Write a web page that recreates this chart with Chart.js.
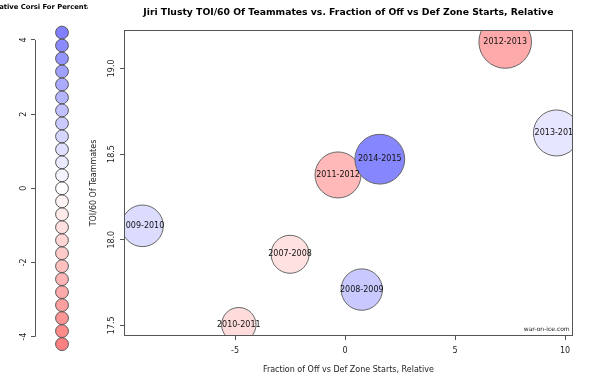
<!DOCTYPE html>
<html><head><meta charset="utf-8">
<script src="https://cdn.jsdelivr.net/npm/chart.js@4"></script>
<style>
html,body{margin:0;padding:0;background:#fff;}
#wrap{position:relative;width:600px;height:381px;overflow:hidden;}
#main{position:absolute;left:0;top:0;}
#legend{position:absolute;left:0;top:0;}
</style></head><body>
<div id="wrap">
<canvas id="main" width="600" height="381"></canvas>
<canvas id="legend" width="100" height="381"></canvas>
</div>
<script>
// ---- data ----
const seasons      = ['2007-2008','2008-2009','2009-2010','2010-2011','2011-2012','2012-2013','2013-2014','2014-2015'];
const zoneStartRel = [-2.50, 0.76, -9.21, -4.83, -0.32, 7.28, 9.61, 1.58];
const toiTeammates = [17.915, 17.709, 18.081, 17.504, 18.378, 19.154, 18.623, 18.470];
const corsiRel     = [-1.0, 1.8, 1.15, -1.15, -2.3, -2.8, 0.84, 4.0];
const bubbleRadius = [19, 20.7, 20.8, 17.2, 23, 26.3, 23, 24.9];
const xTicks = [-5, 0, 5, 10];
const yTicks = [17.5, 18.0, 18.5, 19.0];
const legendValues = [4.2, 3.85, 3.5, 3.15, 2.8, 2.45, 2.1, 1.75, 1.4, 1.05, 0.7, 0.35, 0,
                      -0.35, -0.7, -1.05, -1.4, -1.75, -2.1, -2.45, -2.8, -3.15, -3.5, -3.85, -4.2];
const legendTicks = [-4, -2, 0, 2, 4];
const titleText = 'Jiri Tlusty TOI/60 Of Teammates vs. Fraction of Off vs Def Zone Starts, Relative';
const legendTitle = 'Relative Corsi For Percentage';

Chart.defaults.font.family = '"DejaVu Sans", sans-serif';

function corsiColor(v) {
  const t = Math.min(Math.abs(v) / 4.2, 1);
  const c = Math.round(255 - 127 * t);
  return v >= 0 ? `rgb(${c},${c},255)` : `rgb(255,${c},${c})`;
}

const framePlugin = {
  id: 'frame',
  afterDatasetsDraw(chart) {
    const a = chart.chartArea, ctx = chart.ctx;
    // bubble labels, clipped to the plot area
    ctx.save();
    ctx.beginPath();
    ctx.rect(a.left, a.top, a.right - a.left, a.bottom - a.top);
    ctx.clip();
    ctx.font = '8px "DejaVu Sans"';
    ctx.fillStyle = '#111';
    ctx.textAlign = 'center';
    ctx.textBaseline = 'middle';
    chart.getDatasetMeta(0).data.forEach((el, i) => {
      ctx.fillText(seasons[i], el.x, el.y);
    });
    ctx.font = '6px "DejaVu Sans"';
    ctx.textAlign = 'right';
    ctx.fillStyle = '#222';
    ctx.fillText('war-on-ice.com', a.right - 3, a.bottom - 6.5);
    ctx.restore();
    // box
    ctx.save();
    ctx.strokeStyle = '#555';
    ctx.lineWidth = 1;
    ctx.strokeRect(Math.round(a.left) + 0.5, Math.round(a.top) + 0.5,
                   Math.round(a.right - a.left) - 1, Math.round(a.bottom - a.top) - 1);
    ctx.restore();
  }
};

new Chart(document.getElementById('main'), {
  type: 'bubble',
  data: {
    datasets: [{
      data: seasons.map((s, i) => ({ x: zoneStartRel[i], y: toiTeammates[i], r: bubbleRadius[i] })),
      backgroundColor: corsiRel.map(corsiColor),
      borderColor: '#666',
      borderWidth: 1,
      clip: 0
    }]
  },
  options: {
    responsive: false, animation: false, events: [], devicePixelRatio: 1,
    layout: { padding: { left: 88, right: 24, top: 0, bottom: 0 } },
    plugins: {
      legend: { display: false },
      tooltip: { enabled: false },
      title: {
        display: true, text: titleText, fullSize: false,
        font: { size: 9.25, weight: 'bold' }, color: '#000',
        padding: { top: 7.4, bottom: 11.5 }
      }
    },
    scales: {
      x: {
        type: 'linear', min: -10.05, max: 10.35,
        afterBuildTicks: s => { s.ticks = xTicks.map(v => ({ value: v })); },
        afterFit: s => { s.height = 45; },
        border: { display: false },
        grid: { drawOnChartArea: false, drawTicks: true, tickLength: 4, color: '#555' },
        ticks: { font: { size: 8 }, color: '#222', padding: 6, maxRotation: 0, autoSkip: false },
        title: { display: true, text: 'Fraction of Off vs Def Zone Starts, Relative',
                 font: { size: 8 }, color: '#222', padding: { top: 0, bottom: 6.5 } }
      },
      y: {
        type: 'linear', min: 17.438, max: 19.224,
        afterBuildTicks: s => { s.ticks = yTicks.map(v => ({ value: v })); },
        afterFit: s => { s.width = 36; },
        border: { display: false },
        grid: { drawOnChartArea: false, drawTicks: true, tickLength: 4, color: '#555' },
        ticks: { font: { size: 8 }, color: '#222', padding: -1, minRotation: 90, maxRotation: 90,
                 crossAlign: 'center', autoSkip: false, callback: v => Number(v).toFixed(1) },
        title: { display: true, text: 'TOI/60 Of Teammates', font: { size: 8 }, color: '#222',
                 padding: { top: 1.5, bottom: 0 } }
      }
    }
  },
  plugins: [framePlugin]
});

const legendPlugin = {
  id: 'legendDecor',
  afterDraw(chart) {
    const ctx = chart.ctx, y = chart.scales.y, a = chart.chartArea;
    ctx.save();
    ctx.strokeStyle = '#555';
    ctx.lineWidth = 1;
    ctx.beginPath();
    const x = Math.round(a.left) + 0.5;
    ctx.moveTo(x, y.getPixelForValue(legendTicks[legendTicks.length - 1]));
    ctx.lineTo(x, y.getPixelForValue(legendTicks[0]));
    ctx.stroke();
    ctx.beginPath();
    ctx.rect(0, 0, 88, 20);
    ctx.clip();
    ctx.font = 'bold 6.8px "DejaVu Sans"';
    ctx.fillStyle = '#000';
    ctx.textAlign = 'center';
    ctx.textBaseline = 'middle';
    ctx.fillText(legendTitle, 44, 7);
    ctx.restore();
  }
};

new Chart(document.getElementById('legend'), {
  type: 'bubble',
  data: {
    datasets: [{
      data: legendValues.map(v => ({ x: 0, y: v, r: 6.4 })),
      backgroundColor: legendValues.map(corsiColor),
      borderColor: '#555',
      borderWidth: 1,
      clip: false
    }]
  },
  options: {
    responsive: false, animation: false, events: [], devicePixelRatio: 1,
    layout: { padding: { left: 0, right: 11, top: 20, bottom: 20 } },
    plugins: { legend: { display: false }, tooltip: { enabled: false } },
    scales: {
      x: { type: 'linear', display: false, min: -1, max: 1 },
      y: {
        type: 'linear', min: -4.656, max: 4.538,
        afterBuildTicks: s => { s.ticks = legendTicks.map(v => ({ value: v })); },
        afterFit: s => { s.width = 35; },
        border: { display: false },
        grid: { drawOnChartArea: false, drawTicks: true, tickLength: 4, color: '#555' },
        ticks: { font: { size: 8 }, color: '#222', padding: 3, minRotation: 90, maxRotation: 90,
                 crossAlign: 'center', autoSkip: false }
      }
    }
  },
  plugins: [legendPlugin]
});
</script>
</body></html>
